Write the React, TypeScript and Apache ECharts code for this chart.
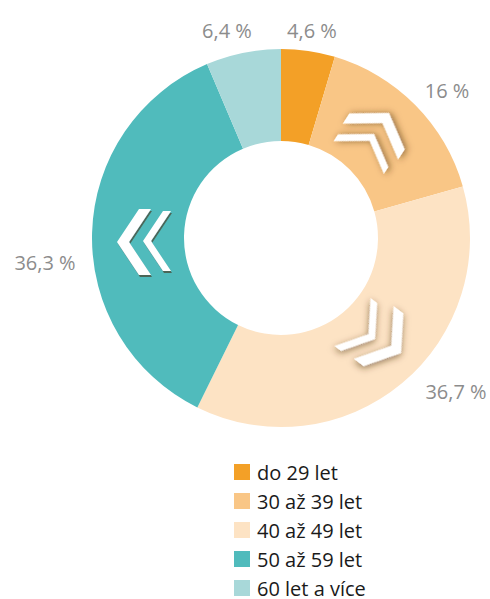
import React, { useEffect, useRef } from "react";
import * as echarts from "echarts";

const categories = ["do 29 let", "30 až 39 let", "40 až 49 let", "50 až 59 let", "60 let a více"];
const values = [4.6, 16, 36.7, 36.3, 6.4];
const valueLabels = ["4,6 %", "16 %", "36,7 %", "36,3 %", "6,4 %"];
const colors = ["#F3A027", "#F9C686", "#FDE3C4", "#50BBBC", "#A8D8D9"];

// label centres (text placement only)
const labelPos: [number, number][] = [
  [312, 30],
  [447, 90],
  [456, 391],
  [45, 262],
  [227, 30],
];

const FONT = "'Open Sans', 'Noto Sans', sans-serif";

function chevron(tipX: number, tipY: number, angleDeg: number, w: number, h: number, t: number) {
  return {
    type: "polygon",
    x: tipX,
    y: tipY,
    rotation: (-angleDeg * Math.PI) / 180,
    shape: {
      points: [
        [0, 0],
        [-w, -h],
        [-w - t, -h],
        [-t, 0],
        [-w - t, h],
        [-w, h],
      ],
    },
    style: {
      fill: "#ffffff",
      shadowBlur: 7,
      shadowColor: "rgba(70,45,20,0.6)",
      shadowOffsetX: 1,
      shadowOffsetY: 2,
    },
    z: 10,
  };
}

export default function App() {
  const ref = useRef<HTMLDivElement>(null);
  useEffect(() => {
    if (!ref.current) return;
    const chart = echarts.init(ref.current, undefined, { renderer: "svg" });
    chart.setOption({
      animation: false,
      backgroundColor: "#ffffff",
      legend: {
        orient: "vertical",
        left: 234,
        top: 462,
        height: 200,
        padding: 0,
        itemWidth: 16,
        itemHeight: 16,
        itemGap: 9,
        icon: "rect",
        data: categories,
        textStyle: {
          fontFamily: FONT,
          fontSize: 20,
          color: "#1a1a1a",
          padding: [0, 0, 0, 2],
        },
      },
      series: [
        {
          type: "pie",
          center: [281, 238],
          radius: [97, 189],
          startAngle: 90,
          clockwise: true,
          avoidLabelOverlap: false,
          label: {
            show: true,
            position: "outside",
            formatter: (p: any) => valueLabels[p.dataIndex],
            fontFamily: FONT,
            fontSize: 20,
            color: "#8C8C8C",
          },
          labelLine: { show: false },
          labelLayout: (p: any) => ({
            x: labelPos[p.dataIndex][0],
            y: labelPos[p.dataIndex][1],
            align: "center",
            verticalAlign: "middle",
          }),
          emphasis: { disabled: true },
          data: categories.map((c, i) => ({
            name: c,
            value: values[i],
            itemStyle: { color: colors[i] },
          })),
        },
      ],
      graphic: [
        chevron(389, 113, -57, 22, 33, 12),
        chevron(374, 134, -57, 20, 30, 8),
        chevron(117, 242, 180, 22, 33, 12),
        chevron(143, 241, 180, 20, 30, 8),
        chevron(401, 353, 37, 22, 33, 12),
        chevron(375, 339, 37, 20, 30, 8),
      ],
    });
    return () => chart.dispose();
  }, []);
  return (
    <div
      ref={ref}
      style={{ position: "absolute", left: 0, top: 0, width: 490, height: 599 }}
    />
  );
}
